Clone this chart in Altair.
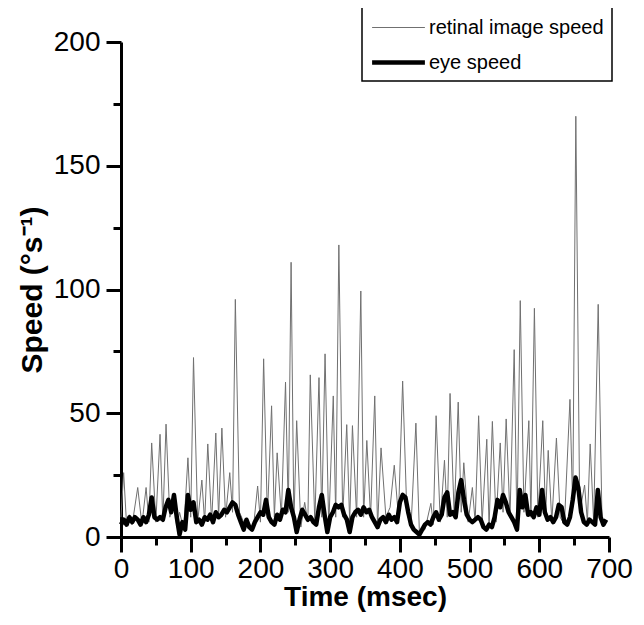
import altair as alt
import pandas as pd

# retinal image speed (thin gray line): time in msec, speed in deg/s
ret_t = [0, 3.8, 8, 12, 16, 24, 30, 36, 40, 44, 50, 56, 60, 64.6, 70, 76, 80, 84, 90, 96,
         100, 104, 110, 116, 120, 124.5, 130, 136, 140, 144.7, 150, 156, 160, 164, 170, 176,
         184, 190, 196, 200, 204.6, 210, 216, 220, 224, 230, 236, 240, 244, 248, 252, 258,
         263.5, 268, 271.5, 278, 284, 288, 292.7, 298, 304.5, 308, 312.5, 318, 323.8, 328,
         332, 338, 344, 348, 352.6, 358, 364, 368, 373, 380, 386, 392, 398, 404, 410, 416,
         423, 428, 436, 444.5, 448, 452, 458, 464, 468, 472, 478, 483.7, 488, 491.7, 498,
         504, 508, 513, 518, 524.7, 528, 532.7, 538, 544, 548, 552.5, 558, 564, 568, 572.7,
         578, 585, 588, 593, 598, 605, 609, 612.8, 618, 624.6, 630, 636, 644, 648, 652.4,
         658, 665, 669, 673, 678, 684.5, 690]
ret_v = [8, 26, 5, 9, 5, 20, 5, 20, 6, 38, 6, 41.5, 6, 45.6, 8, 14, 4, 10, 3, 32,
         8, 72.5, 6, 23, 6, 37.6, 6, 42, 8, 44, 8, 26, 10, 96, 10, 6,
         4, 4, 20.6, 6, 72, 8, 53, 8, 34, 8, 62.6, 10, 111, 6, 47, 4,
         14, 6, 65.5, 6, 64.4, 8, 74, 4, 57, 8, 118, 8, 45.4, 6,
         45, 8, 99.4, 8, 39, 8, 57, 4, 36, 8, 12, 29, 8, 63, 10, 4,
         46, 2, 3, 13.6, 5, 49, 6, 31, 8, 58, 8, 54.5, 10, 30, 6,
         20, 6, 49, 6, 39.5, 4, 46.7, 6, 38, 10, 47.7, 8, 75.7, 3, 95.5,
         10, 47, 8, 92.4, 8, 47, 8, 35, 6, 40, 8, 5, 55.6, 12, 170,
         10, 21, 6, 37.6, 6, 94, 6]

# eye speed (thick black line)
eye_t = list(range(0, 700, 4))
eye_v = [5, 7, 5, 8, 6, 8, 7, 5, 8, 6, 9, 16, 8, 7, 8, 7, 12, 15, 10, 17,
         8, 1, 6, 3, 17, 11, 14, 6, 7, 5, 8, 7, 9, 6, 10, 8, 9, 11, 10, 12,
         14, 13, 9, 6, 3, 7, 4, 3, 6, 8, 10, 9, 15, 8, 6, 5, 9, 7, 11, 10,
         19, 12, 8, 2, 7, 11, 9, 7, 8, 6, 5, 12, 17, 9, 2, 8, 10, 13, 12, 13,
         9, 7, 2, 8, 10, 11, 9, 12, 10, 11, 8, 6, 4, 7, 8, 6, 9, 7, 8, 6,
         14, 17, 16, 10, 5, 3, 2, 1, 3, 5, 6, 5, 8, 10, 7, 9, 16, 18, 9, 10,
         8, 18, 23, 15, 9, 7, 6, 7, 8, 7, 4, 3, 5, 4, 8, 15, 12, 17, 14, 10,
         8, 6, 3, 19, 12, 17, 9, 10, 8, 12, 9, 19, 10, 7, 8, 6, 8, 13, 12, 6,
         5, 8, 15, 24, 20, 10, 6, 5, 7, 6, 5, 19, 8, 5, 7]

series_names = ["retinal image speed", "eye speed"]

df = pd.concat([
    pd.DataFrame({"t": ret_t, "v": ret_v, "series": series_names[0], "o": 0}),
    pd.DataFrame({"t": eye_t, "v": eye_v, "series": series_names[1], "o": 1}),
], ignore_index=True)

FONT = "Liberation Sans"

chart = alt.Chart(df).mark_line(strokeJoin="round", interpolate="linear").encode(
    x=alt.X("t:Q", scale=alt.Scale(domain=[0, 700], nice=False),
            axis=alt.Axis(values=list(range(0, 701, 50)), title="Time (msec)",
                          labelExpr="datum.value % 100 === 0 ? datum.label : ''",
                          tickSize={"condition": {"test": "datum.value % 100 === 0", "value": 15}, "value": 8},
                          labelFlush=False, labelOverlap=False, labelPadding=3,
                          titleFontSize=28, titlePadding=0)),
    y=alt.Y("v:Q", scale=alt.Scale(domain=[0, 200], nice=False),
            axis=alt.Axis(values=list(range(0, 201, 25)), title="Speed (°s⁻¹)",
                          labelExpr="datum.value % 50 === 0 ? datum.label : ''",
                          tickSize={"condition": {"test": "datum.value % 50 === 0", "value": 15}, "value": 8},
                          labelFlush=False, labelOverlap=False, labelPadding=6,
                          titleFontSize=30, titlePadding=6)),
    color=alt.Color("series:N", scale=alt.Scale(domain=series_names, range=["#707070", "#000000"]),
                    legend=alt.Legend(title=None)),
    strokeWidth=alt.StrokeWidth("series:N", scale=alt.Scale(domain=series_names, range=[1, 4.5]),
                                legend=alt.Legend(title=None)),
    detail="series:N",
    order="o:Q",
).properties(
    width=488, height=495,
    autosize=alt.AutoSizeParams(type="none"),
    padding={"left": 113, "top": 34, "right": 27, "bottom": 80},
).configure_view(stroke=None).configure_axis(
    domainColor="black", domainWidth=3, tickColor="black", tickWidth=3,
    labelFont=FONT, labelFontSize=28, labelColor="black",
    titleFont=FONT, titleFontWeight="bold", titleColor="black",
    grid=False,
).configure_legend(
    orient="none", legendX=241, legendY=-35,
    strokeColor="black", strokeWidth=1.5, padding=8,
    labelFont=FONT, labelFontSize=20, labelColor="black", labelLimit=400,
    symbolType="M-2.2,0H2.2", symbolSize=576, symbolOffset=14, rowPadding=10, labelOffset=16,
)

chart.save("out.html", embed_options={"renderer": "svg", "actions": False})
